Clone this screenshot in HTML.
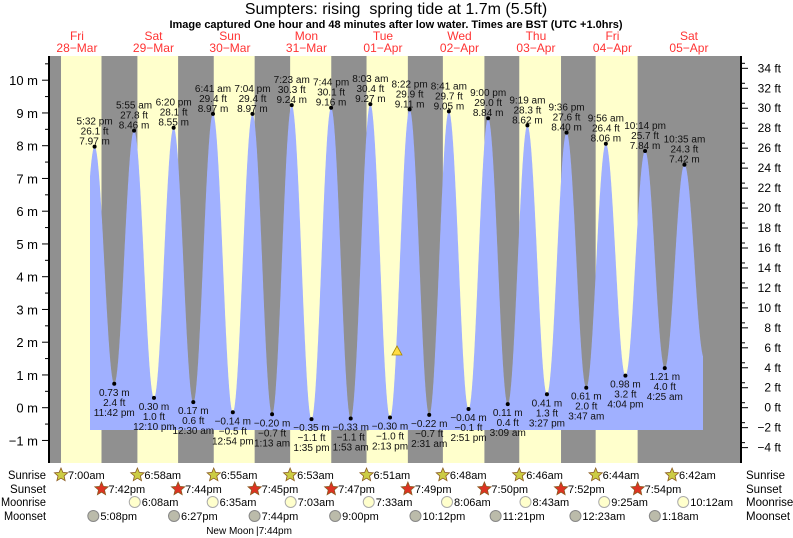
<!DOCTYPE html>
<html><head><meta charset="utf-8"><style>body{margin:0;background:#fff}svg{display:block}text{font-family:"Liberation Sans",sans-serif}</style></head>
<body>
<svg id="s" width="793" height="538" xmlns="http://www.w3.org/2000/svg"></svg>
<script>
const S=document.getElementById('s');let h='';
const X=t=>38.7+3.1875*t, Y=m=>407.7-32.75*m;
const T=(d,hh,mm,pm)=>d*24+(hh%12)+(pm?12:0)+mm/60;
h+=`<rect x="49" y="56" width="691" height="407" fill="#909090"/>`;
const rise=[[7,0],[6,58],[6,55],[6,53],[6,51],[6,48],[6,46],[6,44],[6,42]];
const set=[[7,42],[7,44],[7,45],[7,47],[7,49],[7,50],[7,52],[7,54]];
for(let d=0;d<8;d++){let a=X(T(d,rise[d][0],rise[d][1],0));let b=X(T(d,set[d][0],set[d][1],1));
h+=`<rect x="${a}" y="56" width="${b-a}" height="407" fill="#ffffcc"/>`;}
const E=[[T(0,11,20,0),0.9],[T(0,5,32,1),7.97,'5:32 pm'],[T(0,11,42,1),0.73,'11:42 pm'],[T(1,5,55,0),8.46,'5:55 am'],[T(1,12,10,1),0.30,'12:10 pm'],[T(1,6,20,1),8.55,'6:20 pm'],[T(2,12,30,0),0.17,'12:30 am'],[T(2,6,41,0),8.97,'6:41 am'],[T(2,12,54,1),-0.14,'12:54 pm'],[T(2,7,4,1),8.97,'7:04 pm'],[T(3,1,13,0),-0.20,'1:13 am'],[T(3,7,23,0),9.24,'7:23 am'],[T(3,1,35,1),-0.35,'1:35 pm'],[T(3,7,44,1),9.16,'7:44 pm'],[T(4,1,53,0),-0.33,'1:53 am'],[T(4,8,3,0),9.27,'8:03 am'],[T(4,2,13,1),-0.30,'2:13 pm'],[T(4,8,22,1),9.11,'8:22 pm'],[T(5,2,31,0),-0.22,'2:31 am'],[T(5,8,41,0),9.05,'8:41 am'],[T(5,2,51,1),-0.04,'2:51 pm'],[T(5,9,0,1),8.84,'9:00 pm'],[T(6,3,9,0),0.11,'3:09 am'],[T(6,9,19,0),8.62,'9:19 am'],[T(6,3,27,1),0.41,'3:27 pm'],[T(6,9,36,1),8.40,'9:36 pm'],[T(7,3,47,0),0.61,'3:47 am'],[T(7,9,56,0),8.06,'9:56 am'],[T(7,4,4,1),0.98,'4:04 pm'],[T(7,10,14,1),7.84,'10:14 pm'],[T(8,4,25,0),1.21,'4:25 am'],[T(8,10,35,0),7.42,'10:35 am'],[T(8,4,50,1),1.5]];
const FT=[26.1,2.4,27.8,1.0,28.1,0.6,29.4,-0.5,29.4,-0.7,30.3,-1.1,30.1,-1.1,30.4,-1.0,29.9,-0.7,29.7,-0.1,29.0,0.4,28.3,1.3,27.6,2.0,26.4,3.2,25.7,4.0,24.3];
function H(t){for(let i=0;i<E.length-1;i++){if(t>=E[i][0]&&t<=E[i+1][0]){let p=(t-E[i][0])/(E[i+1][0]-E[i][0]);return E[i][1]+(E[i+1][1]-E[i][1])*(1-Math.cos(Math.PI*p))/2;}}return 0;}
const t0=(90-38.7)/3.1875,t1=(703-38.7)/3.1875;let pts=`90,430 `;
for(let t=t0;t<=t1;t+=0.05)pts+=`${X(t).toFixed(1)},${Y(H(t)).toFixed(1)} `;
pts+=`${X(t1).toFixed(1)},${Y(H(t1)).toFixed(1)} 703,430`;
h+=`<polygon points="${pts}" fill="#a0b0ff"/>`;
for(let i=1;i<E.length-1;i++){const[t,m,lab]=E[i];const x=X(t),y=Y(m);const f=FT[i-1];
const ms=(m<0?'−':'')+Math.abs(m).toFixed(2)+' m',fs=(f<0?'−':'')+Math.abs(f).toFixed(1)+' ft';
h+=`<circle cx="${x}" cy="${y}" r="2" fill="#000"/>`;
let L=m>4?[[lab,-22],[fs,-12],[ms,-2]]:[[ms,12],[fs,22],[lab,32]];
for(const[s,o]of L)h+=`<text x="${x}" y="${y+o}" font-size="10" text-anchor="middle" fill="#111">${s}</text>`;}
h+=`<polygon points="397,346 392,355 402,355" fill="#ffdd44" stroke="#aa8800" stroke-width="0.8"/>`;
h+=`<line x1="49" y1="56" x2="49" y2="463" stroke="#000" stroke-width="2"/><line x1="741" y1="56" x2="741" y2="463" stroke="#000" stroke-width="2"/>`;
for(let m=-1;m<=10;m++){h+=`<line x1="42" y1="${Y(m)}" x2="49" y2="${Y(m)}" stroke="#000"/><text x="38" y="${Y(m)+5}" font-size="13" text-anchor="end">${m<0?'−1':m} m</text>`;
h+=`<line x1="45" y1="${Y(m+0.5)}" x2="49" y2="${Y(m+0.5)}" stroke="#000"/>`;}
for(let f=-4;f<=34;f+=2){const y=407.7-9.982*f;h+=`<line x1="741" y1="${y}" x2="748" y2="${y}" stroke="#000"/><line x1="741" y1="${y-4.99}" x2="745" y2="${y-4.99}" stroke="#000"/><text x="781" y="${y+4}" font-size="12" text-anchor="end">${f<0?'−'+(-f):f} ft</text>`;}
h+=`<text x="396" y="14" font-size="16" text-anchor="middle">Sumpters: rising&#160; spring tide at 1.7m (5.5ft)</text>`;
h+=`<text x="396" y="28" font-size="11" font-weight="bold" text-anchor="middle">Image captured One hour and 48 minutes after low water. Times are BST (UTC +1.0hrs)</text>`;
const dn=['Fri','Sat','Sun','Mon','Tue','Wed','Thu','Fri','Sat'],dd=['28−Mar','29−Mar','30−Mar','31−Mar','01−Apr','02−Apr','03−Apr','04−Apr','05−Apr'];
for(let d=0;d<9;d++){const x=X(d*24+12);h+=`<text x="${x}" y="40" font-size="12" fill="#ff3333" text-anchor="middle">${dn[d]}</text><text x="${x}" y="52" font-size="12" fill="#ff3333" text-anchor="middle">${dd[d]}</text>`;}
const rows=[['Sunrise',479,38],['Sunset',493,36],['Moonrise',506,45],['Moonset',520,42]];
for(const[n,y,w]of rows){h+=`<text x="${46-w}" y="${y}" font-size="11.5" textLength="${w}" lengthAdjust="spacingAndGlyphs">${n}</text><text x="746" y="${y}" font-size="11.5">${n}</text>`;}
function star(cx,cy,f){let p='';for(let i=0;i<10;i++){const r=i%2?3.2:7,a=-Math.PI/2+i*Math.PI/5;p+=`${(cx+r*Math.cos(a)).toFixed(1)},${(cy+r*Math.sin(a)).toFixed(1)} `;}return `<polygon points="${p}" fill="${f}" stroke="#8a5a20" stroke-width="0.8"/>`;}
const fmt=(a,b,s)=>`${a}:${String(b).padStart(2,'0')}${s}`;
for(let d=0;d<9;d++){const x=X(T(d,rise[d][0],rise[d][1],0));h+=star(x,475,'#cccc44')+`<text x="${x+7}" y="479" font-size="11">${fmt(rise[d][0],rise[d][1],'am')}</text>`;}
for(let d=0;d<8;d++){const x=X(T(d,set[d][0],set[d][1],1));h+=star(x,489,'#dd3322')+`<text x="${x+7}" y="493" font-size="11">${fmt(set[d][0],set[d][1],'pm')}</text>`;}
const mr=[[1,6,8],[2,6,35],[3,7,3],[4,7,33],[5,8,6],[6,8,43],[7,9,25],[8,10,12]];
for(const[d,a,b]of mr){const x=X(T(d,a,b,0));h+=`<circle cx="${x}" cy="502" r="5.5" fill="#ffffcc" stroke="#aaa"/><text x="${x+7}" y="506" font-size="11">${fmt(a,b,'am')}</text>`;}
const ms=[[0,5,8,1],[1,6,27,1],[2,7,44,1],[3,9,0,1],[4,10,12,1],[5,11,21,1],[7,12,23,0],[8,1,18,0]];
for(const[d,a,b,p]of ms){const x=X(T(d,a,b,p));h+=`<circle cx="${x}" cy="516" r="5.5" fill="#bbbbaa" stroke="#888"/><text x="${x+7}" y="520" font-size="11">${fmt(a,b,p?'pm':'am')}</text>`;}
h+=`<text x="254" y="534" font-size="10" text-anchor="end">New Moon</text><text x="256" y="534" font-size="10">|7:44pm</text>`;
S.innerHTML=h;
</script>
</body></html>
